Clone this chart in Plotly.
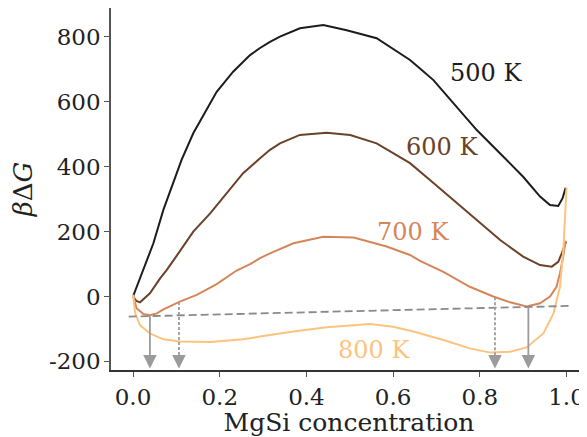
import plotly.graph_objects as go

# ---- data ----
x_500 = [0.000, 0.024, 0.047, 0.070, 0.093, 0.112, 0.139, 0.170, 0.193, 0.231, 0.270, 0.293, 0.316, 0.339,
         0.385, 0.439, 0.493, 0.562, 0.616, 0.639, 0.662, 0.693, 0.739, 0.793, 0.847, 0.900, 0.939, 0.962,
         0.981, 0.991, 0.998]
y_500 = [0, 82, 164, 267, 349, 421, 503, 575, 631, 693, 744, 766, 785, 801,
         827, 837, 821, 796, 750, 729, 703, 667, 596, 513, 441, 369, 308, 282,
         279, 303, 335]

x_600 = [0.000, 0.008, 0.016, 0.039, 0.062, 0.078, 0.101, 0.139, 0.178, 0.216, 0.254, 0.293, 0.316, 0.339,
         0.385, 0.447, 0.501, 0.562, 0.616, 0.639, 0.685, 0.739, 0.793, 0.847, 0.900, 0.939, 0.966, 0.981,
         0.989, 0.999]
y_600 = [0, -14, -18, 10, 55, 82, 126, 200, 256, 318, 380, 426, 452, 472,
         498, 505, 498, 472, 431, 411, 359, 297, 236, 174, 123, 97, 92, 107,
         133, 169]

x_700 = [0.000, 0.004, 0.008, 0.024, 0.039, 0.055, 0.070, 0.108, 0.147, 0.193, 0.239, 0.270, 0.293, 0.316,
         0.370, 0.439, 0.509, 0.585, 0.639, 0.662, 0.716, 0.777, 0.831, 0.870, 0.908, 0.939, 0.962, 0.977,
         0.985, 0.992, 0.998]
y_700 = [5, -15, -36, -54, -58, -52, -40, -16, 5, 38, 80, 100, 118, 133,
         164, 184, 182, 154, 128, 110, 76, 30, 0, -18, -31, -21, 0, 30,
         72, 120, 172]

x_800 = [0.000, 0.005, 0.016, 0.039, 0.070, 0.108, 0.178, 0.254, 0.316, 0.370, 0.447, 0.547, 0.600, 0.647,
         0.716, 0.777, 0.824, 0.870, 0.908, 0.947, 0.970, 0.985, 0.993, 0.997, 1.000]
y_800 = [5, -52, -88, -114, -132, -139, -140, -132, -119, -108, -95, -85, -93, -108,
         -134, -160, -173, -170, -157, -113, -52, 30, 150, 250, 335]

tangent_x = [-0.01, 1.01]
tangent_y = [-62, -29]

solid_arrow_x = [0.039, 0.912]
solid_arrow_y0 = [-58, -31]
dotted_arrow_x = [0.106, 0.835]
dotted_arrow_y0 = [-17, -2]
arrow_tip_y = -222

labels = ["500 K", "600 K", "700 K", "800 K"]
label_x = [0.814, 0.712, 0.646, 0.555]
label_y = [689, 462, 200, -165]
colors = ["#1c1c1c", "#6b4228", "#d4865a", "#fdc37e"]

x_ticks = [0.0, 0.2, 0.4, 0.6, 0.8, 1.0]
x_ticklabels = ["0.0", "0.2", "0.4", "0.6", "0.8", "1.0"]
y_ticks = [-200, 0, 200, 400, 600, 800]
y_ticklabels = ["-200", "0", "200", "400", "600", "800"]

FONT = "DejaVu Serif"
FS_TICK = 23
FS_LABEL = 24
FS_TITLE = 25
ARROW_COL = "#9b9b9b"

fig = go.Figure()
for xs, ys, c in zip([x_500, x_600, x_700, x_800], [y_500, y_600, y_700, y_800], colors):
    fig.add_trace(go.Scatter(x=xs, y=ys, mode="lines", line=dict(color=c, width=2), showlegend=False,
                             hoverinfo="skip"))

fig.add_trace(go.Scatter(x=tangent_x, y=tangent_y, mode="lines",
                         line=dict(color="#8a8a8a", width=1.8, dash="8px,4px"), showlegend=False))

arrow_len_px = 14
for xs, y0s, dash in [(solid_arrow_x, solid_arrow_y0, "solid"), (dotted_arrow_x, dotted_arrow_y0, "3px,2px")]:
    for xa, ya in zip(xs, y0s):
        fig.add_trace(go.Scatter(x=[xa, xa], y=[ya, arrow_tip_y + 30], mode="lines",
                                 line=dict(color=ARROW_COL, width=1.8, dash=dash), showlegend=False))
        fig.add_annotation(x=xa, y=arrow_tip_y, ax=0, ay=-arrow_len_px, xref="x", yref="y",
                           showarrow=True, arrowhead=2, arrowsize=1.5, arrowwidth=1.8,
                           arrowcolor=ARROW_COL, text="")

for t, lx, ly, c in zip(labels, label_x, label_y, colors):
    fig.add_annotation(x=lx, y=ly, text=t, showarrow=False, font=dict(family=FONT, size=FS_LABEL, color=c),
                       xanchor="center", yanchor="middle")

# page body has an 8px default margin: compensate so the plot sits where the reference has it
fig.update_layout(
    width=579, height=429,
    margin=dict(l=103, r=0, t=0, b=67, autoexpand=False),
    plot_bgcolor="white", paper_bgcolor="white",
    font=dict(family=FONT, size=FS_TICK, color="#222222"),
)
fig.update_xaxes(range=[-0.0508, 1.0473], tickvals=x_ticks, ticktext=x_ticklabels,
                 tickfont=dict(family=FONT, size=FS_TICK),
                 showline=True, linecolor="#333333", linewidth=1.5, ticks="outside", ticklen=5,
                 tickcolor="#555555", tickwidth=1.2, showgrid=False, zeroline=False,
                 automargin=False, ticklabelstandoff=1,
                 title=dict(text="MgSi concentration", font=dict(family=FONT, size=FS_TITLE)))
fig.update_yaxes(range=[-226.6, 889.3], tickvals=y_ticks, ticktext=y_ticklabels,
                 tickfont=dict(family=FONT, size=FS_TICK),
                 showline=True, linecolor="#555555", linewidth=1.5, ticks="outside", ticklen=5,
                 tickcolor="#555555", tickwidth=1.2, showgrid=False, zeroline=False,
                 automargin=False, ticklabelstandoff=-1,
                 title=dict(text="<i>β</i>Δ<i>G</i>", font=dict(family=FONT, size=FS_TITLE + 1)))

fig.write_html("out.html")
